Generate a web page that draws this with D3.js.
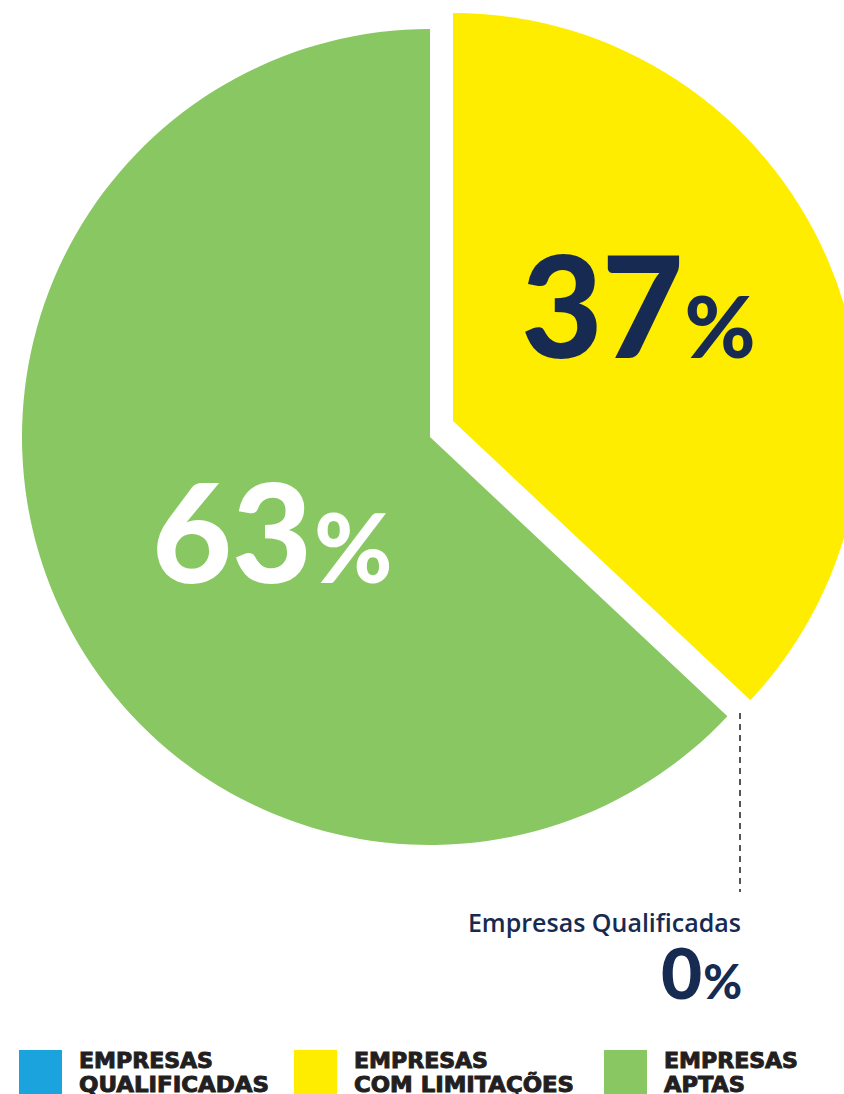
<!DOCTYPE html>
<html>
<head>
<meta charset="utf-8">
<script src="https://cdn.jsdelivr.net/npm/d3@7"></script>
<style>
  html, body { margin: 0; padding: 0; background: #ffffff; }
  svg { display: block; }
</style>
</head>
<body>
<div id="chart"></div>
<script>
// Share of companies by qualification status
const categories = ["Empresas Qualificadas", "Empresas com Limitações", "Empresas Aptas"];
const values = [0, 37, 63];
const colors = ["#1ba3dd", "#ffed00", "#89c762"];
const legendLines = [["EMPRESAS", "QUALIFICADAS"], ["EMPRESAS", "COM LIMITAÇÕES"], ["EMPRESAS", "APTAS"]];

const W = 844, H = 1094;
const NAVY = "#172a51";
const svg = d3.select("#chart").append("svg").attr("width", W).attr("height", H);

const cx = 430, cy = 437, R = 408;
const pie = d3.pie().sort(null).value(d => d).startAngle(0).endAngle(2 * Math.PI);
const arcs = pie(values);
const arc = d3.arc().innerRadius(0).outerRadius(R);

// the "com limitações" slice is pulled out from the centre
const explode = [[0, 0], [23, -16], [0, 0]];

const g = svg.append("g").attr("transform", `translate(${cx},${cy})`);
g.selectAll("path.slice")
  .data(arcs)
  .join("path")
  .attr("class", "slice")
  .attr("transform", (d, i) => `translate(${explode[i][0]},${explode[i][1]})`)
  .attr("d", arc)
  .attr("fill", (d, i) => colors[i]);

// percentage labels inside the slices
const fontBig = "Lato, 'Open Sans', sans-serif";
function pctLabel(x, y, value, fill, bigSize, smallSize, spacing) {
  const t = svg.append("text")
    .attr("x", x).attr("y", y)
    .attr("font-family", fontBig)
    .attr("font-weight", 900)
    .attr("fill", fill);
  t.append("tspan").attr("font-size", bigSize).attr("letter-spacing", spacing).text(value);
  t.append("tspan").attr("font-size", smallSize).attr("dx", 2).text("%");
  return t;
}
pctLabel(521, 358, values[1], NAVY, 141, 86, -1);
pctLabel(152, 583, values[2], "#ffffff", 138, 95, 0);

// leader line for the empty slice
const leadX = 740;
svg.append("line")
  .attr("x1", leadX).attr("x2", leadX)
  .attr("y1", 713).attr("y2", 892)
  .attr("stroke", "#555555")
  .attr("stroke-width", 2)
  .attr("stroke-dasharray", "6,5");

svg.append("text")
  .attr("x", 741).attr("y", 932)
  .attr("text-anchor", "end")
  .attr("font-family", "'Open Sans', sans-serif")
  .attr("font-weight", 600)
  .attr("font-size", 25)
  .attr("fill", NAVY)
  .text(categories[0]);

const zero = svg.append("text")
  .attr("x", 742).attr("y", 999)
  .attr("text-anchor", "end")
  .attr("font-family", fontBig)
  .attr("font-weight", 900)
  .attr("fill", NAVY);
zero.append("tspan").attr("font-size", 71).text(values[0]);
zero.append("tspan").attr("font-size", 47).attr("dx", 1).text("%");

// legend
const legendX = [19, 294, 604];
const textW = [[134, 190], [134, 220], [134, 81]];
const lg = svg.append("g");
categories.forEach((c, i) => {
  lg.append("rect")
    .attr("x", legendX[i]).attr("y", 1050)
    .attr("width", 43).attr("height", 50)
    .attr("fill", colors[i]);
  legendLines[i].forEach((line, j) => {
    lg.append("text")
      .attr("x", legendX[i] + 60)
      .attr("y", 1068 + j * 24)
      .attr("font-family", "'DejaVu Sans Condensed', 'DejaVu Sans', sans-serif")
      .attr("font-stretch", "condensed")
      .attr("font-weight", 700)
      .attr("font-size", 22)
      .attr("fill", "#231f20")
      .attr("stroke", "#231f20")
      .attr("stroke-width", 0.9)
      .attr("textLength", textW[i][j])
      .attr("lengthAdjust", "spacingAndGlyphs")
      .text(line);
  });
});
</script>
</body>
</html>
